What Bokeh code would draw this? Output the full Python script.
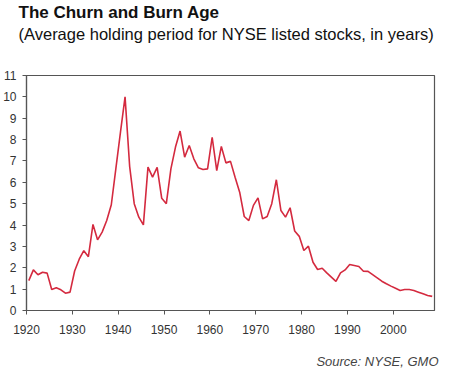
from bokeh.plotting import figure
from bokeh.models import ColumnDataSource, FixedTicker, Range1d, Title
from bokeh.transform import dodge
from bokeh.embed import file_html
from bokeh.resources import INLINE

years = list(range(1920, 2009))
holding = [
    1.40, 1.90, 1.67, 1.79, 1.75, 0.98, 1.06, 0.97, 0.81, 0.86,
    1.85, 2.40, 2.80, 2.52, 4.03, 3.31, 3.67, 4.21, 4.95, 6.65,
    8.35, 10.0, 6.75, 5.00, 4.37, 4.01, 6.71, 6.24, 6.70, 5.25,
    5.00, 6.63, 7.65, 8.40, 7.18, 7.72, 7.10, 6.68, 6.60, 6.63,
    8.11, 6.55, 7.68, 6.91, 6.98, 6.24, 5.54, 4.40, 4.21, 4.92,
    5.27, 4.29, 4.40, 5.00, 6.12, 4.68, 4.37, 4.81, 3.72, 3.47,
    2.81, 3.01, 2.26, 1.92, 1.98, 1.76, 1.56, 1.36, 1.76, 1.90,
    2.15, 2.11, 2.06, 1.84, 1.83, 1.68, 1.53, 1.37, 1.25, 1.14,
    1.04, 0.94, 0.98, 0.98, 0.94, 0.86, 0.78, 0.70, 0.66,
]
x_ticks = [1920, 1930, 1940, 1950, 1960, 1970, 1980, 1990, 2000]
y_ticks = list(range(0, 12))

title_text = "The Churn and Burn Age"
subtitle_text = "(Average holding period for NYSE listed stocks, in years)"
source_text = "Source: NYSE, GMO"

src = ColumnDataSource(dict(year=years, value=holding))

FONT = "Liberation Sans"
AX = "#555555"

p = figure(
    frame_width=408, frame_height=235,
    min_border_left=25, min_border_right=6, min_border_top=0, min_border_bottom=0,
    x_range=Range1d(1920, 2009), y_range=Range1d(0, 11),
    output_backend="svg", toolbar_location=None,
    background_fill_color="white", border_fill_color="white",
)

p.line(x=dodge("year", 0.5), y="value", source=src, line_color="#d42a3f", line_width=1.6)

p.grid.visible = False
p.outline_line_color = AX
p.outline_line_width = 1.2

for ax in (p.xaxis[0], p.yaxis[0]):
    ax.axis_line_color = AX
    ax.axis_line_width = 1.2
    ax.major_tick_line_color = AX
    ax.major_tick_in = 0
    ax.major_tick_out = 4
    ax.minor_tick_line_color = None
    ax.major_label_text_font = FONT
    ax.major_label_text_font_size = "12px"
    ax.major_label_text_color = "#333333"

p.xaxis.ticker = FixedTicker(ticks=x_ticks)
p.yaxis.ticker = FixedTicker(ticks=y_ticks)
p.xaxis.major_label_standoff = 10
p.yaxis.major_label_standoff = 6

# spacing panel between subtitle and plot frame
p.add_layout(Title(text=" ", standoff=29, text_font_size="1px"), "above")
p.add_layout(Title(text=subtitle_text, align="left", offset=-8, standoff=2,
                   text_font=FONT, text_font_size="16.5px", text_font_style="normal",
                   text_color="#111111"), "above")
p.add_layout(Title(text=title_text, align="left", offset=-8, standoff=0,
                   text_font=FONT, text_font_size="17px", text_font_style="bold",
                   text_color="#111111"), "above")

# spacing panel between axis and source note
p.add_layout(Title(text=" ", standoff=12, text_font_size="1px"), "below")
p.add_layout(Title(text=source_text, align="right", offset=-4, standoff=0,
                   text_font=FONT, text_font_size="13px", text_font_style="italic",
                   text_color="#444444"), "below")

open("out.html", "w").write(file_html(p, INLINE))
